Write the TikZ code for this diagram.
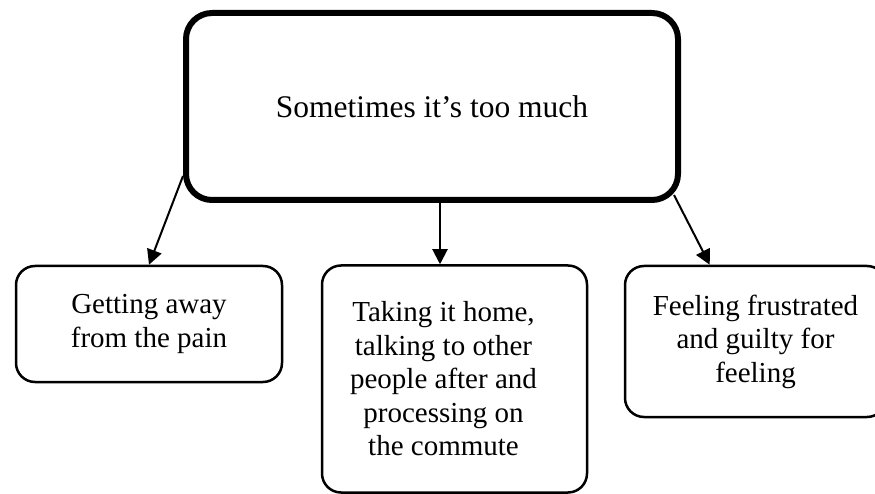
\documentclass[tikz,border=0pt]{standalone}
\usepackage{fontspec}
\setmainfont{Liberation Serif}
\usetikzlibrary{arrows.meta,calc}
\tikzset{
  bigbox/.style={draw, line width=6pt, rounded corners=26pt, minimum width=492pt, minimum height=187pt, inner sep=0pt, font=\fontsize{31.5}{36}\selectfont},
  smallbox/.style={draw, line width=2.5pt, rounded corners=19pt, inner sep=0pt},
  boxtext/.style={align=center, inner sep=0pt, font=\fontsize{29}{33.5}\selectfont},
  arr/.style={line width=2pt, -{Triangle[length=15pt,width=15pt]}}
}
\begin{document}
\begin{tikzpicture}
\useasboundingbox (0,0) rectangle (875pt,493pt);
\clip (0,0) rectangle (875pt,493pt);
\node[bigbox] (top) at (432pt,386.5pt) {\raisebox{-2pt}{Sometimes it’s too much}};
\node[smallbox, boxtext, minimum width=266pt, minimum height=116pt] (left) at (149pt,169pt) {Getting away\\from the pain};
\node[smallbox, minimum width=265pt, minimum height=227pt] (mid) at (454.5pt,114pt) {};
\node[boxtext] (midtext) at ($(mid.center)+(-11pt,0)$) {Taking it home,\\talking to other\\people after and\\processing on\\the commute};
\node[smallbox, boxtext, minimum width=261pt, minimum height=151pt] (right) at (755.5pt,151.5pt) {Feeling frustrated\\and guilty for\\feeling};
\coordinate (a1) at ($(top.south west)+(0,27pt)$);
\coordinate (a2) at ($(top.south)+(8pt,0)$);
\coordinate (a3) at ($(top.south east)+(-7pt,8pt)$);
\coordinate (e3) at ($(right.north west)+(86pt,0)$);
\draw[arr] (a1) -- (left.north);
\draw[arr] (a2) -- (a2 |- mid.north);
\draw[arr] (a3) -- (e3);
\end{tikzpicture}
\end{document}
